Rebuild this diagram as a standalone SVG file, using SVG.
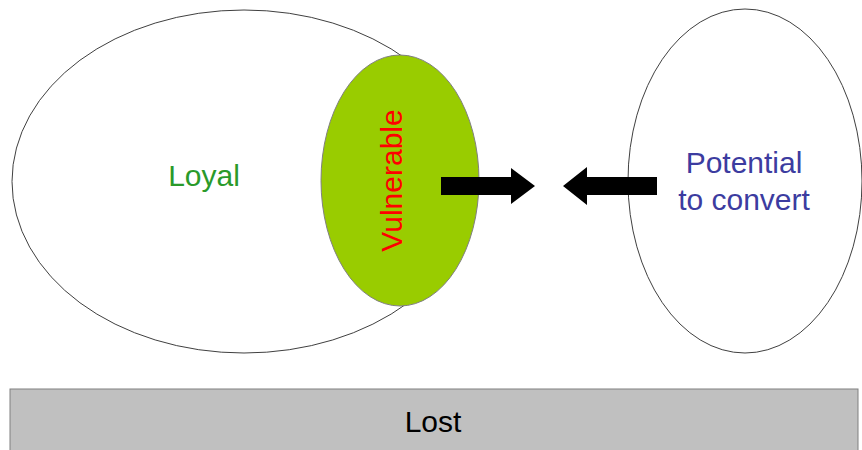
<svg xmlns="http://www.w3.org/2000/svg" width="862" height="450" viewBox="0 0 862 450">
<style>
.lbl{font-family:"Liberation Sans",Arial,sans-serif;font-size:30px;text-anchor:middle}
.out{fill:#ffffff;stroke:#404040;stroke-width:1}
</style>
<rect width="862" height="450" fill="#ffffff"/>
<g id="loyal">
<ellipse class="out" cx="244" cy="181.5" rx="232" ry="171.5"/>
<text class="lbl" x="204" y="186" fill="#2a9a2a">Loyal</text>
</g>
<g id="vulnerable">
<ellipse cx="400" cy="180.5" rx="79" ry="125.5" fill="#99cc00" stroke="#808080" stroke-width="1"/>
<text class="lbl" transform="translate(401.5,180.5) rotate(-90)" fill="#ff0000">Vulnerable</text>
</g>
<g id="potential">
<ellipse class="out" cx="745" cy="181" rx="117" ry="172"/>
<text class="lbl" x="744" y="173" fill="#3c3ca0">Potential</text>
<text class="lbl" x="744" y="210" fill="#3c3ca0">to convert</text>
</g>
<g id="lost">
<rect x="10" y="389" width="848" height="70" fill="#c0c0c0" stroke="#808080" stroke-width="1"/>
<text class="lbl" x="433" y="432" fill="#000000">Lost</text>
</g>
<g id="connectors">
<polygon points="441,177 511,177 511,168 535,186 511,204 511,195 441,195" fill="#000000"/>
<polygon points="657,177 587,177 587,167 563,186 587,205 587,195 657,195" fill="#000000"/>
</g>
</svg>
